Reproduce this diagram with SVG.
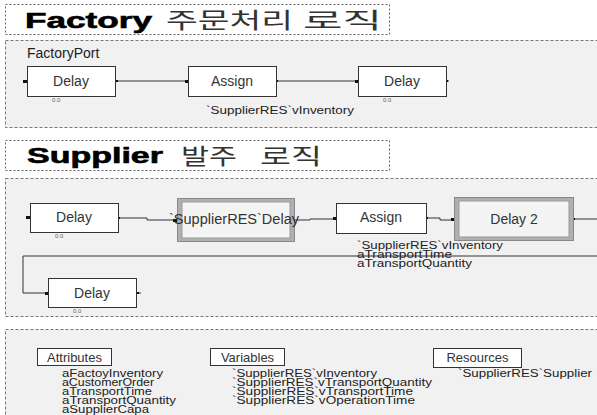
<svg xmlns="http://www.w3.org/2000/svg" width="597" height="415" viewBox="0 0 597 415">
<defs>
<style>
.title{fill:#fff;stroke:#666;stroke-width:1;stroke-dasharray:2,2}
.panel{fill:#f1f1f1;stroke:#777;stroke-width:1;stroke-dasharray:3,2}
.box{fill:#fff;stroke:#333;stroke-width:1}
.lbl{font-family:"Liberation Sans",Arial,sans-serif;font-size:14px;fill:#333;text-anchor:middle}
.hdr{font-family:"Liberation Sans",Arial,sans-serif;font-size:13px;fill:#333;text-anchor:middle}
.small{font-family:"Liberation Sans",Arial,sans-serif;font-size:10px;fill:#222}
.tiny{font-family:"Liberation Sans",Arial,sans-serif;font-size:6px;fill:#666}
.ko{font-family:"Noto Sans CJK KR",sans-serif;font-size:22px;fill:#333}
.en{font-family:"Liberation Sans",Arial,sans-serif;font-weight:bold;font-size:22px;fill:#000;stroke:#000;stroke-width:0.6px}
.conn{fill:none;stroke:#333;stroke-width:1}
.port{fill:#111}
</style>
</defs>
<rect width="597" height="415" fill="#fff"/>
<g id="title1">
<rect class="title" x="5.5" y="4.5" width="384" height="30"/>
<text class="en" x="25" y="28" textLength="127" lengthAdjust="spacingAndGlyphs">Factory</text>
<text class="ko" x="166" y="28" textLength="127" lengthAdjust="spacingAndGlyphs">주문처리</text>
<text class="ko" x="303" y="28" textLength="79" lengthAdjust="spacingAndGlyphs">로직</text>
</g>
<g id="panel1">
<rect class="panel" x="5.5" y="40.5" width="600" height="87"/>
<text x="27" y="58" font-family="'Liberation Sans',Arial,sans-serif" font-size="14" fill="#222">FactoryPort</text>
</g>
<g id="title2">
<rect class="title" x="5.5" y="140.5" width="384" height="30"/>
<text class="en" x="27" y="163" textLength="136" lengthAdjust="spacingAndGlyphs">Supplier</text>
<text class="ko" x="181" y="164" font-size="20" textLength="56" lengthAdjust="spacingAndGlyphs">발주</text>
<text class="ko" x="260" y="164" font-size="20" textLength="62" lengthAdjust="spacingAndGlyphs">로직</text>
</g>
<g id="panel2">
<rect class="panel" x="5.5" y="178.5" width="600" height="138"/>
</g>
<g id="panel3">
<rect class="panel" x="5.5" y="329.5" width="600" height="100"/>
</g>
<g id="connectors">
<path class="conn" d="M116 81H188M276 81H358M446 81H449"/>
<path class="conn" d="M118 218H147V220H177"/>
<path class="conn" d="M294 220H310V219H336"/>
<path class="conn" d="M426 218H440V220H455"/>
<path class="conn" d="M573 219H597"/>
<path class="conn" d="M23 256H597"/>
<path class="conn" d="M23 256V293H48"/>
<path class="conn" d="M137 293H141"/>
<rect class="port" x="23" y="80" width="4" height="3"/>
<rect class="port" x="116" y="80" width="2" height="2"/>
<rect class="port" x="185" y="80" width="4" height="3"/>
<rect class="port" x="276" y="80" width="2" height="2"/>
<rect class="port" x="355" y="80" width="4" height="3"/>
<rect class="port" x="446" y="80" width="2" height="2"/>
<rect class="port" x="26" y="216" width="4" height="3"/>
<rect class="port" x="118" y="217" width="2" height="2"/>
<rect class="port" x="173" y="219" width="4" height="3"/>
<rect class="port" x="333" y="217" width="4" height="3"/>
<rect class="port" x="426" y="217" width="2" height="2"/>
<rect class="port" x="451" y="218" width="4" height="3"/>
<rect class="port" x="573" y="218" width="2" height="2"/>
<rect class="port" x="45" y="292" width="4" height="3"/>
<rect class="port" x="137" y="292" width="2" height="2"/>
</g>
<g id="f_delay1">
<rect class="box" x="27.5" y="66.5" width="88" height="30"/>
<text class="lbl" x="71" y="86">Delay</text>
<text class="tiny" x="52" y="102">0.0</text>
</g>
<g id="f_assign">
<rect class="box" x="188.5" y="66.5" width="88" height="30"/>
<text class="lbl" x="232" y="86">Assign</text>
<text class="small" x="206" y="114" textLength="148" lengthAdjust="spacingAndGlyphs">`SupplierRES`vInventory</text>
</g>
<g id="f_delay2">
<rect class="box" x="358.5" y="66.5" width="88" height="30"/>
<text class="lbl" x="402" y="86">Delay</text>
<text class="tiny" x="383" y="102">0.0</text>
</g>
<g id="s_delay1">
<rect class="box" x="30.5" y="203.5" width="88" height="29"/>
<text class="lbl" x="74" y="222">Delay</text>
<text class="tiny" x="55" y="238">0.0</text>
</g>
<g id="s_resdelay">
<rect x="177.5" y="198.5" width="117" height="43" fill="#b0b0b0" stroke="#888"/>
<rect x="182" y="202" width="108" height="36" fill="#f4f4f4" stroke="#999"/>
<text class="lbl" x="234" y="224" textLength="130" lengthAdjust="spacingAndGlyphs">`SupplierRES`Delay</text>
</g>
<g id="s_assign">
<rect class="box" x="336.5" y="203.5" width="90" height="30"/>
<text class="lbl" x="381" y="222">Assign</text>
<text class="small" x="357" y="249" textLength="146" lengthAdjust="spacingAndGlyphs">`SupplierRES`vInventory</text>
<text class="small" x="357" y="258" textLength="95" lengthAdjust="spacingAndGlyphs">aTransportTime</text>
<text class="small" x="357" y="267" textLength="115" lengthAdjust="spacingAndGlyphs">aTransportQuantity</text>
</g>
<g id="s_delay2">
<rect x="454.5" y="197.5" width="119" height="43" fill="#b0b0b0" stroke="#888"/>
<rect x="459" y="201" width="110" height="36" fill="#f4f4f4" stroke="#999"/>
<text class="lbl" x="514" y="224">Delay 2</text>
</g>
<g id="s_delay3">
<rect class="box" x="48.5" y="278.5" width="88" height="29"/>
<text class="lbl" x="92" y="298">Delay</text>
<text class="tiny" x="73" y="313">0.0</text>
</g>
<g id="attributes">
<rect class="box" x="37.5" y="348.5" width="74" height="17"/>
<text class="hdr" x="74.5" y="362">Attributes</text>
<text class="small" x="62" y="377" textLength="101" lengthAdjust="spacingAndGlyphs">aFactoyInventory</text>
<text class="small" x="62" y="386" textLength="92" lengthAdjust="spacingAndGlyphs">aCustomerOrder</text>
<text class="small" x="62" y="395" textLength="90" lengthAdjust="spacingAndGlyphs">aTransportTime</text>
<text class="small" x="62" y="404" textLength="114" lengthAdjust="spacingAndGlyphs">aTransportQuantity</text>
<text class="small" x="62" y="413" textLength="87" lengthAdjust="spacingAndGlyphs">aSupplierCapa</text>
</g>
<g id="variables">
<rect class="box" x="210.5" y="348.5" width="74" height="17"/>
<text class="hdr" x="247.5" y="362">Variables</text>
<text class="small" x="232" y="377" textLength="145" lengthAdjust="spacingAndGlyphs">`SupplierRES`vInventory</text>
<text class="small" x="232" y="386" textLength="200" lengthAdjust="spacingAndGlyphs">`SupplierRES`vTransportQuantity</text>
<text class="small" x="232" y="395" textLength="181" lengthAdjust="spacingAndGlyphs">`SupplierRES`vTransportTime</text>
<text class="small" x="232" y="404" textLength="183" lengthAdjust="spacingAndGlyphs">`SupplierRES`vOperationTime</text>
</g>
<g id="resources">
<rect class="box" x="433.5" y="348.5" width="88" height="19"/>
<text class="hdr" x="477.5" y="362">Resources</text>
<text class="small" x="458" y="377" textLength="134" lengthAdjust="spacingAndGlyphs">`SupplierRES`Supplier</text>
</g>
</svg>
